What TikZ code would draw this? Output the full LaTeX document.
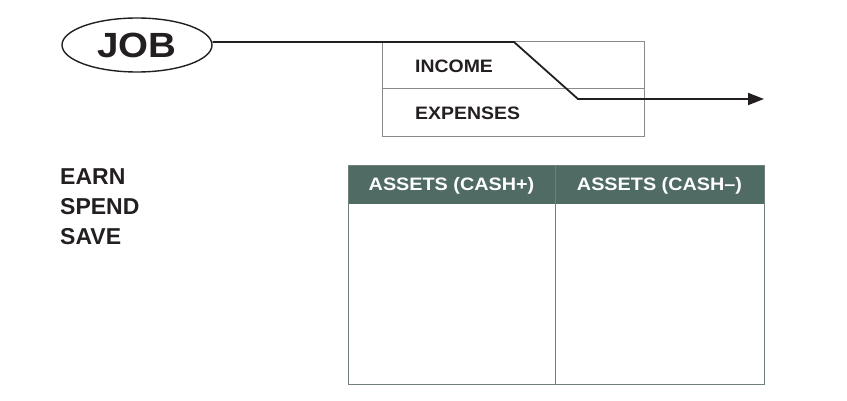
\documentclass[tikz,border=0pt]{standalone}
\usepackage{fontspec}
\setmainfont{Liberation Sans}
\newfontfamily\wideA[FakeStretch=1.1]{Liberation Sans}
\newfontfamily\wideB[FakeStretch=1.08]{Liberation Sans}
\usetikzlibrary{shapes.geometric,arrows.meta}
\definecolor{teal}{HTML}{506B64}
\definecolor{boxgrey}{HTML}{8A8A8A}
\definecolor{tabline}{HTML}{6F7F7A}
\definecolor{txt}{HTML}{231F20}
\begin{document}
\begin{tikzpicture}[x=1pt,y=-1pt,
  lbl/.style={font=\wideB\bfseries\fontsize{18}{20}\selectfont, text=txt, anchor=west, inner sep=0pt},
  side/.style={font=\bfseries\fontsize{23}{26}\selectfont, text=txt, anchor=west, inner sep=0pt},
  hdr/.style={font=\wideA\bfseries\fontsize{18}{20}\selectfont, text=white, inner sep=0pt},
  flow/.style={line width=1.8pt, draw=txt},
  thinbox/.style={draw=boxgrey, line width=0.8pt},
  tab/.style={draw=tabline, line width=1pt}]
\useasboundingbox (0,0) rectangle (847,401);
% JOB ellipse
\node[ellipse, draw=txt, line width=1.4pt, minimum width=150, minimum height=54, inner sep=0pt,
      font=\wideA\bfseries\fontsize{35}{40}\selectfont, text=txt] (job) at (137,45) {JOB};
% income/expenses box
\draw[thinbox] (382,41) rectangle (644,136);
\draw[thinbox] (382,88) -- (644,88);
\node[lbl] (inc) at (415,66) {INCOME};
\node[lbl] (exp) at (415,113) {EXPENSES};
% flow line
\coordinate (k1) at (514,42);
\coordinate (k2) at (578,99);
\coordinate (tip) at (764,99);
\draw[flow, -{Triangle[length=16pt,width=12pt]}] (job.east |- 0,42) -- (k1) -- (k2) -- (tip);
% earn spend save
\node[side] (earn) at (60,177) {EARN};
\node[side] (spend) at (60,207) {SPEND};
\node[side] (save) at (60,237) {SAVE};
% table
\fill[teal] (348,166) rectangle (764,204);
\draw[tab] (348,166) rectangle (764,384);
\draw[tab] (555,166) -- (555,384);
\node[hdr] (h1) at (451.5,186) {ASSETS (CASH+)};
\node[hdr] (h2) at (659.5,186) {ASSETS (CASH–)};
\end{tikzpicture}
\end{document}
